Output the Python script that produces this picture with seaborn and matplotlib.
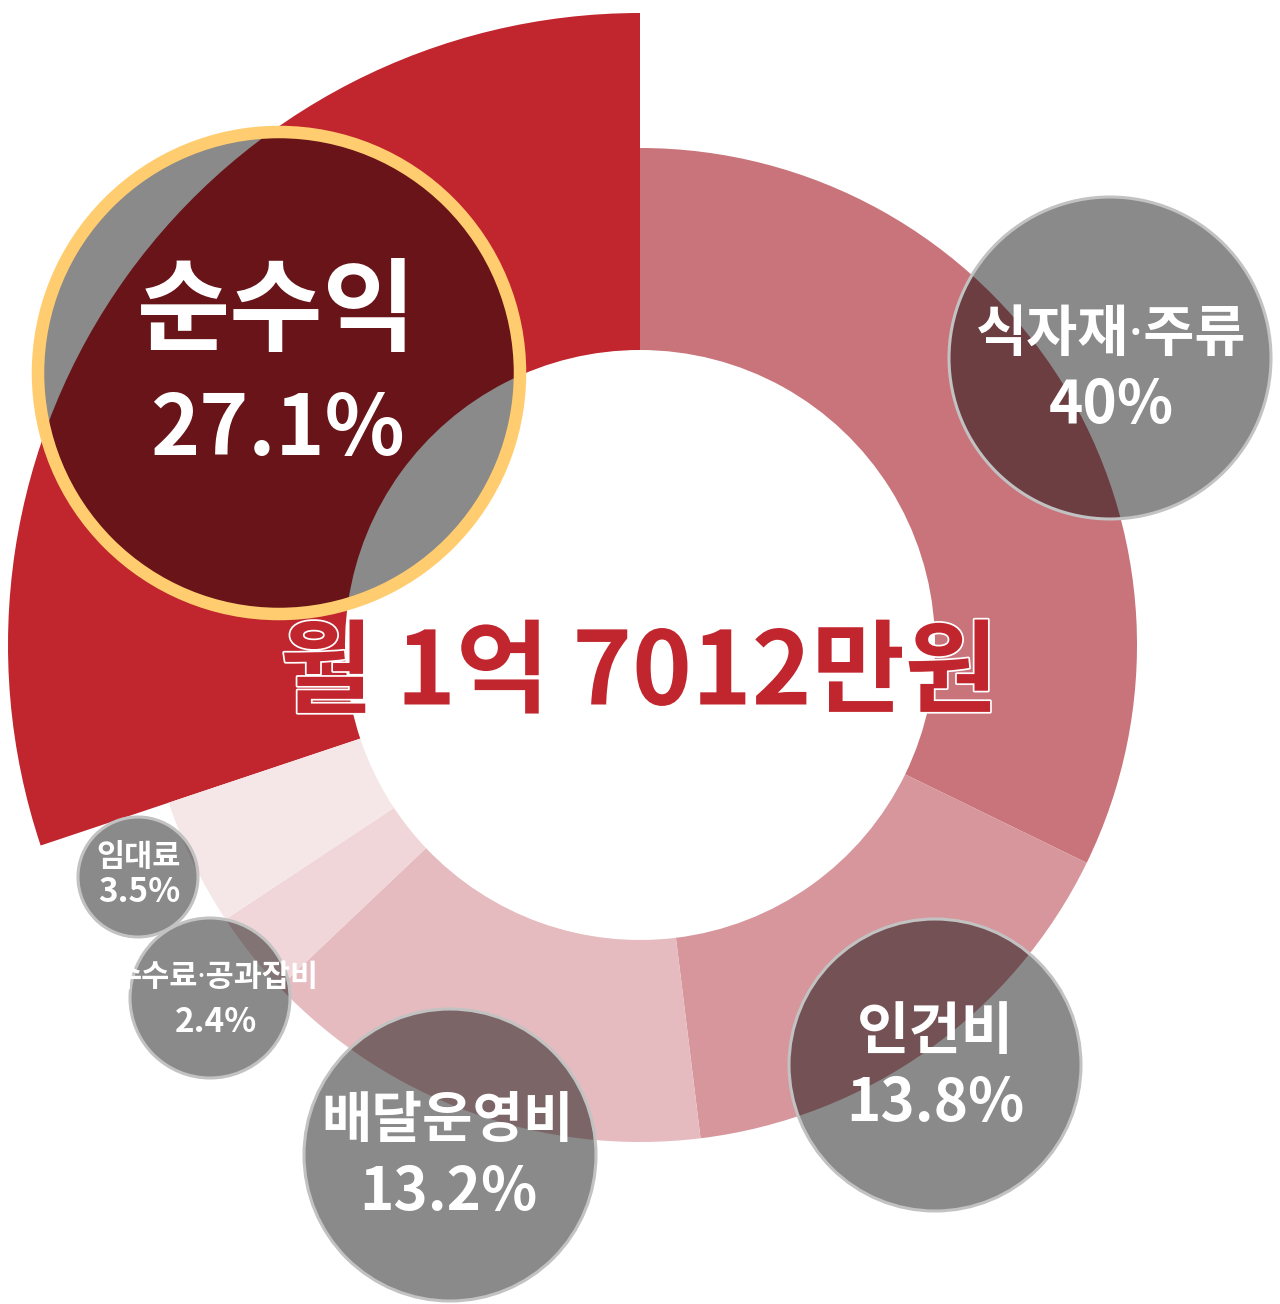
import matplotlib
matplotlib.use("Agg")
import matplotlib.pyplot as plt
import matplotlib.patheffects as pe
from matplotlib.patches import Circle
from matplotlib.transforms import Bbox, TransformedBbox
import seaborn as sns

sns.set_theme(style="white")
plt.rcParams["font.family"] = ["Noto Sans CJK KR", "DejaVu Sans"]

# data
labels = ["식자재·주류", "인건비", "배달운영비", "수수료·공과잡비", "임대료", "순수익"]
pct_text = ["40%", "13.8%", "13.2%", "2.4%", "3.5%", "27.1%"]
# wedge sizes as they are drawn in the picture (degrees, clockwise from 12 o'clock)
arc_deg = [116, 57, 53.5, 10, 15, 108.5]
title = "월 1억 7012만원"

colors = ["#c9737a", "#d6969b", "#e5bbbf", "#f0d6d8", "#f5e7e8", "#c1262e"]

# bubble layout (pixel-ish units, origin at ring centre)
bubble_xy = [(470, 287), (295, -420), (-190, -510), (-430, -353), (-502, -232), (-361, 272)]
bubble_r = [161, 146, 146, 80, 60, 241]
name_dy = [21, 33, 34, 20, 20, 60]
pct_dy = [-48, -39, -38, -25, -16, -58]
name_size = [40, 41, 39.5, 22, 22, 73]
pct_size = [42, 42, 42, 24, 24, 60]
text_dx = [1, 0, -2, 6, 1, -2]

# dot-bearing labels: latin family first keeps the middle dot narrow
mixed_family = ["Noto Sans", "Noto Sans CJK KR"]
cjk_family = ["Noto Sans CJK KR", "DejaVu Sans"]

fig = plt.figure(figsize=(12.8, 13.04), dpi=100)
ax = fig.add_axes([0, 0, 1, 1])

inner = 295
# exploded profit wedge (larger radius)
ax.pie(arc_deg, colors=["none"] * 5 + [colors[5]], radius=632, startangle=90,
       counterclock=False, wedgeprops=dict(width=632 - inner, linewidth=0))
# main ring
ax.pie(arc_deg, colors=colors[:5] + ["none"], radius=497, startangle=90,
       counterclock=False, wedgeprops=dict(width=497 - inner, linewidth=0))

ax.text(-1, -30, title, ha="center", va="center", fontsize=73, fontweight="bold",
        color="#c1262e", zorder=5,
        path_effects=[pe.withStroke(linewidth=2.5, foreground="white")])

order = [0, 1, 2, 4, 3, 5]
for i in order:
    x, y = bubble_xy[i]
    if i == 5:
        ax.add_patch(Circle((x, y), bubble_r[i], facecolor=(0, 0, 0, 0.46),
                            edgecolor="#ffcd6f", linewidth=9, zorder=6))
    else:
        ax.add_patch(Circle((x, y), bubble_r[i], facecolor=(0, 0, 0, 0.46),
                            edgecolor="#c2c2c2", linewidth=2.2, zorder=6))
    fam = mixed_family if "·" in labels[i] else cjk_family
    t = ax.text(x + text_dx[i], y + name_dy[i], labels[i], ha="center", va="center",
                fontsize=name_size[i], fontweight="bold", color="white", zorder=7,
                family=fam)
    if i == 3:
        t.set_clip_box(TransformedBbox(Bbox([[-512, -700], [700, 700]]), ax.transData))
        t.set_clip_on(True)
    ax.text(x + text_dx[i], y + pct_dy[i], pct_text[i], ha="center", va="center",
            fontsize=pct_size[i], fontweight="bold", color="white", zorder=7)

ax.set_xlim(-640, 640)
ax.set_ylim(-659, 645)
ax.set_aspect("equal")
ax.axis("off")

fig.savefig("out.png", dpi=100)
